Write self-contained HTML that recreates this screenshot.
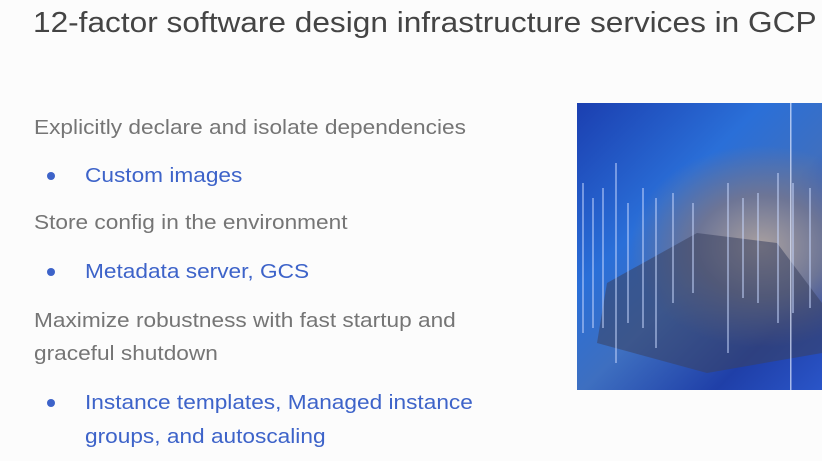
<!DOCTYPE html>
<html><head><meta charset="utf-8"><style>
body{margin:0;width:822px;height:461px;overflow:hidden;background:#fcfcfc;font-family:"Liberation Sans",sans-serif;position:relative}
.t{position:absolute;white-space:nowrap;line-height:1;transform-origin:0 0}
.h{left:33px;top:9px;font-size:29px;color:#444;transform:scaleX(1.09)}
.g{font-size:20.5px;color:#757575;left:34px;transform:scaleX(1.105)}
.b{font-size:20.5px;color:#3d63c9;left:85px;transform:scaleX(1.105)}
.d{position:absolute;left:47px;width:8px;height:8px;border-radius:50%;background:#3d63c9}
.img{position:absolute;left:577px;top:103px;width:245px;height:287px;overflow:hidden;
background:radial-gradient(ellipse at 75% 50%,#a9a0a0 0%,#6d7596 25%,transparent 50%),linear-gradient(135deg,#1b3fb0 0%,#2a6fd8 35%,#3e6fc0 55%,#1f3fa8 80%,#2a55c8 100%)}
</style></head><body>
<div class="t h">12-factor software design infrastructure services in GCP</div>
<div class="t g" style="top:118px">Explicitly declare and isolate dependencies</div>
<div class="d" style="top:172px"></div><div class="t b" style="top:166px">Custom images</div>
<div class="t g" style="top:213px">Store config in the environment</div>
<div class="d" style="top:268px"></div><div class="t b" style="top:262px">Metadata server, GCS</div>
<div class="t g" style="top:311px">Maximize robustness with fast startup and</div>
<div class="t g" style="top:344px">graceful shutdown</div>
<div class="d" style="top:399px"></div><div class="t b" style="top:393px">Instance templates, Managed instance</div>
<div class="t b" style="top:427px">groups, and autoscaling</div>
<div class="img">
<svg width="245" height="287" style="position:absolute;left:0;top:0">
<polygon points="30,180 120,130 200,140 245,200 245,250 130,270 20,240" fill="#3a4260" opacity="0.55"/>
<g fill="#c8d8ff" opacity="0.5">
<rect x="5" y="80" width="2" height="150"/><rect x="15" y="95" width="2" height="130"/><rect x="25" y="85" width="2" height="140"/>
<rect x="38" y="60" width="2" height="200"/><rect x="50" y="100" width="2" height="120"/><rect x="65" y="85" width="2" height="140"/>
<rect x="78" y="95" width="2" height="150"/><rect x="95" y="90" width="2" height="110"/><rect x="115" y="100" width="2" height="90"/>
<rect x="150" y="80" width="2" height="170"/><rect x="165" y="95" width="2" height="100"/><rect x="180" y="90" width="2" height="110"/>
<rect x="200" y="70" width="2" height="150"/><rect x="215" y="80" width="2" height="130"/><rect x="232" y="85" width="2" height="120"/>
</g>
<rect x="213" y="0" width="1.5" height="287" fill="#dfe8ff" opacity="0.7"/>
</svg></div>
</body></html>
